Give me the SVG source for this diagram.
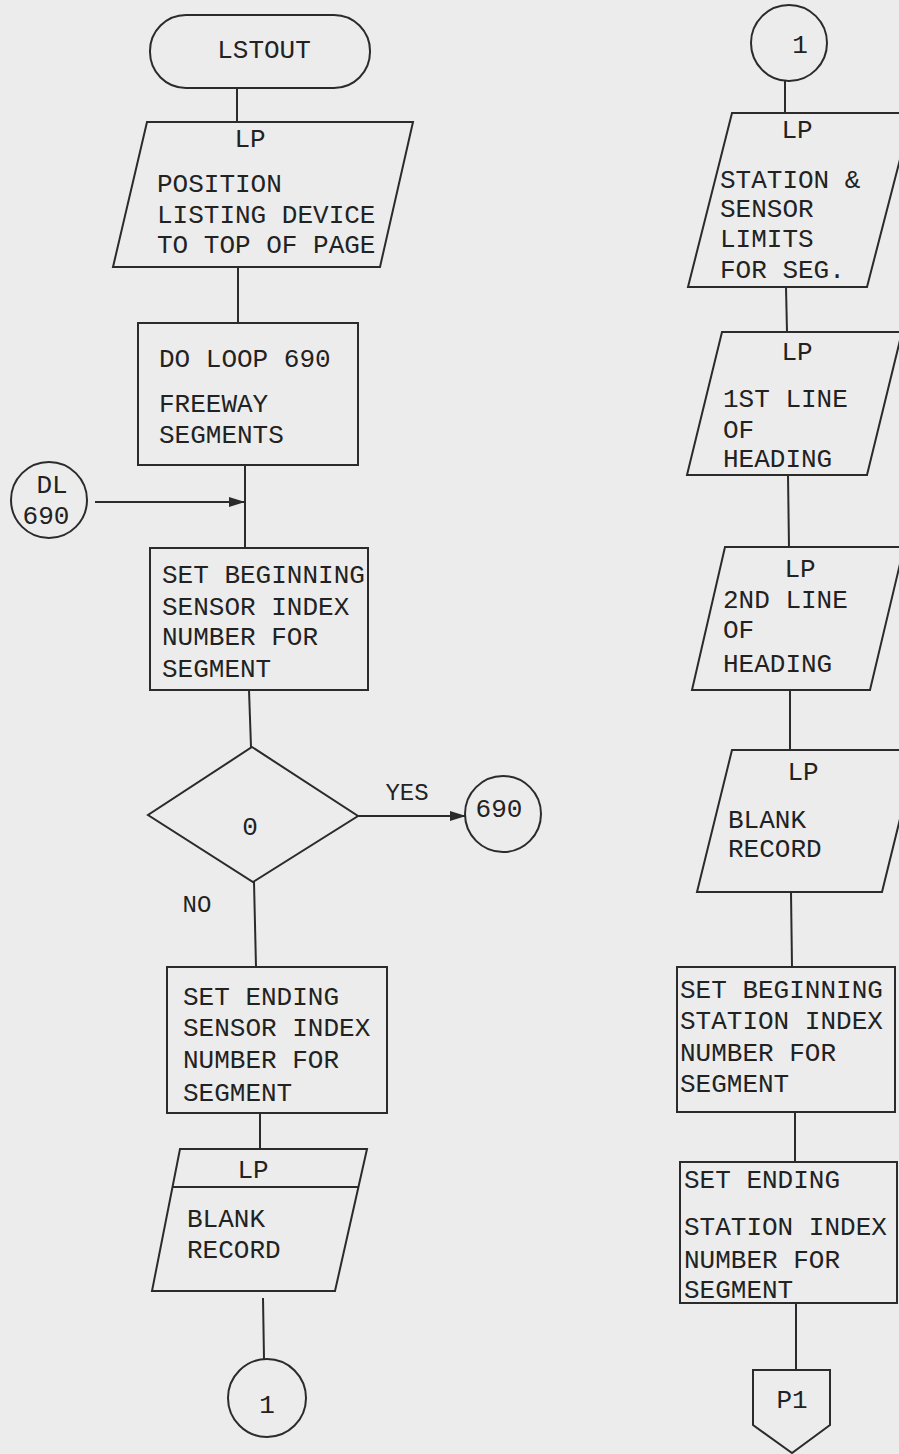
<svg xmlns="http://www.w3.org/2000/svg" width="899" height="1454" viewBox="0 0 899 1454">
<style>
.s{fill:none;stroke:#2b2b2b;stroke-width:2}
.t{font-family:"Liberation Mono","DejaVu Sans Mono",monospace;font-size:26px;fill:#222222}
.c{text-anchor:middle}
.sm{font-size:24px}
</style>
<defs>
<marker id="ah" markerWidth="16" markerHeight="10" refX="15" refY="5" orient="auto" markerUnits="userSpaceOnUse">
<path d="M0,0 L16,5 L0,10 z" fill="#2b2b2b"/>
</marker>
</defs>
<rect x="0" y="0" width="899" height="1454" fill="#ececec"/>
<g id="connectors">
<line class="s" x1="237" y1="88" x2="237" y2="122"/>
<line class="s" x1="238" y1="267" x2="238" y2="323"/>
<line class="s" x1="245" y1="465" x2="245" y2="548"/>
<line class="s" x1="95" y1="502" x2="244" y2="502" marker-end="url(#ah)"/>
<line class="s" x1="249" y1="690" x2="251" y2="747"/>
<line class="s" x1="358" y1="816" x2="465" y2="816" marker-end="url(#ah)"/>
<line class="s" x1="254" y1="882" x2="256" y2="967"/>
<line class="s" x1="260" y1="1113" x2="260" y2="1149"/>
<line class="s" x1="263" y1="1298" x2="264" y2="1359"/>
<line class="s" x1="785" y1="81" x2="785" y2="113"/>
<line class="s" x1="786" y1="287" x2="787" y2="332"/>
<line class="s" x1="788" y1="475" x2="789" y2="547"/>
<line class="s" x1="790" y1="690" x2="790" y2="750"/>
<line class="s" x1="791" y1="892" x2="792" y2="967"/>
<line class="s" x1="795" y1="1112" x2="795" y2="1162"/>
<line class="s" x1="796" y1="1303" x2="796" y2="1370"/>
<text class="t c sm" x="407" y="800">YES</text>
<text class="t c sm" x="197" y="912">NO</text>
</g>
<g id="n_lstout">
<rect class="s" x="150" y="15" width="220" height="73" rx="36"/>
<text class="t c" x="264" y="58">LSTOUT</text>
</g>
<g id="n_position">
<polygon class="s" points="147,122 413,122 380,267 113,267"/>
<text class="t c" x="250" y="147">LP</text>
<text class="t" x="157" y="192">POSITION</text>
<text class="t" x="157" y="223">LISTING DEVICE</text>
<text class="t" x="157" y="253">TO TOP OF PAGE</text>
</g>
<g id="n_doloop">
<rect class="s" x="138" y="323" width="220" height="142"/>
<text class="t" x="159" y="367">DO LOOP 690</text>
<text class="t" x="159" y="412">FREEWAY</text>
<text class="t" x="159" y="443">SEGMENTS</text>
</g>
<g id="n_dl690">
<circle class="s" cx="49" cy="500" r="38"/>
<text class="t c" x="52" y="493">DL</text>
<text class="t c" x="46" y="524">690</text>
</g>
<g id="n_setbegsensor">
<rect class="s" x="150" y="548" width="218" height="142"/>
<text class="t" x="162" y="583">SET BEGINNING</text>
<text class="t" x="162" y="615">SENSOR INDEX</text>
<text class="t" x="162" y="645">NUMBER FOR</text>
<text class="t" x="162" y="677">SEGMENT</text>
</g>
<g id="n_decision">
<polygon class="s" points="252,747 358,816 253,882 148,815"/>
<text class="t c" x="250" y="835">0</text>
</g>
<g id="n_c690">
<circle class="s" cx="503" cy="814" r="38"/>
<text class="t c" x="499" y="817">690</text>
</g>
<g id="n_setendsensor">
<rect class="s" x="167" y="967" width="220" height="146"/>
<text class="t" x="183" y="1005">SET ENDING</text>
<text class="t" x="183" y="1036">SENSOR INDEX</text>
<text class="t" x="183" y="1068">NUMBER FOR</text>
<text class="t" x="183" y="1101">SEGMENT</text>
</g>
<g id="n_blank1">
<polygon class="s" points="180,1149 367,1149 335,1291 152,1291"/>
<line class="s" x1="172" y1="1187" x2="359" y2="1187"/>
<text class="t c" x="253" y="1178">LP</text>
<text class="t" x="187" y="1227">BLANK</text>
<text class="t" x="187" y="1258">RECORD</text>
</g>
<g id="n_conn1a">
<circle class="s" cx="267" cy="1398" r="39"/>
<text class="t c" x="267" y="1413">1</text>
</g>
<g id="n_conn1b">
<circle class="s" cx="789" cy="43" r="38"/>
<text class="t c" x="800" y="53">1</text>
</g>
<g id="n_limits">
<polygon class="s" points="732,113 912,113 867,287 688,287"/>
<text class="t c" x="797" y="138">LP</text>
<text class="t" x="720" y="188">STATION &amp;</text>
<text class="t" x="720" y="217">SENSOR</text>
<text class="t" x="720" y="247">LIMITS</text>
<text class="t" x="720" y="278">FOR SEG.</text>
</g>
<g id="n_head1">
<polygon class="s" points="722,332 902,332 867,475 687,475"/>
<text class="t c" x="797" y="360">LP</text>
<text class="t" x="723" y="407">1ST LINE</text>
<text class="t" x="723" y="438">OF</text>
<text class="t" x="723" y="467">HEADING</text>
</g>
<g id="n_head2">
<polygon class="s" points="725,547 904,547 870,690 692,690"/>
<text class="t c" x="800" y="577">LP</text>
<text class="t" x="723" y="608">2ND LINE</text>
<text class="t" x="723" y="638">OF</text>
<text class="t" x="723" y="672">HEADING</text>
</g>
<g id="n_blank2">
<polygon class="s" points="732,750 917,750 882,892 697,892"/>
<text class="t c" x="803" y="780">LP</text>
<text class="t" x="728" y="828">BLANK</text>
<text class="t" x="728" y="857">RECORD</text>
</g>
<g id="n_setbegstation">
<rect class="s" x="677" y="967" width="218" height="145"/>
<text class="t" x="680" y="998">SET BEGINNING</text>
<text class="t" x="680" y="1029">STATION INDEX</text>
<text class="t" x="680" y="1061">NUMBER FOR</text>
<text class="t" x="680" y="1092">SEGMENT</text>
</g>
<g id="n_setendstation">
<rect class="s" x="680" y="1162" width="217" height="141"/>
<text class="t" x="684" y="1188">SET ENDING</text>
<text class="t" x="684" y="1235">STATION INDEX</text>
<text class="t" x="684" y="1268">NUMBER FOR</text>
<text class="t" x="684" y="1298">SEGMENT</text>
</g>
<g id="n_p1">
<polygon class="s" points="753,1370 830,1370 830,1425 792,1453 753,1425"/>
<text class="t c" x="792" y="1408">P1</text>
</g>
</svg>
